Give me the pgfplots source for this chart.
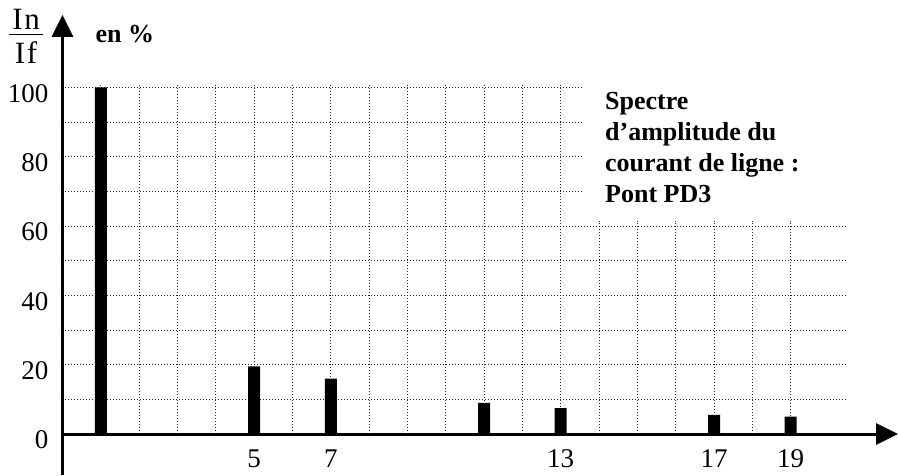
\documentclass[border=0pt]{standalone}
\usepackage{fontspec}
\setmainfont{Liberation Serif}
\usepackage{pgfplots}
\pgfplotsset{compat=1.18}
\usetikzlibrary{arrows.meta}
\tikzset{gridline/.style={densely dotted, black!85, line width=0.5pt}}

\begin{document}
\begin{tikzpicture}
\begin{axis}[
    x=19.165pt, y=1.7335pt,
    xmin=0, xmax=21.8, ymin=-11.9, ymax=120.9,
    axis x line=middle, axis y line=middle,
    axis line style={line width=1.5pt, -{Triangle[length=11pt,width=10.5pt]}},
    xtick={5,7,13,17,19},
    ytick={0,20,40,60,80,100},
    major tick length=0pt,
    hide obscured x ticks=false, hide obscured y ticks=false,
    tick label style={font=\fontsize{13.5}{15}\selectfont},
    /pgf/number format/assume math mode=true,
    xticklabel style={yshift=-4.5pt},
    yticklabel style={xshift=-3.5pt, yshift=-3pt},
    clip=false,
]
% grille (pointillés)
\pgfplotsinvokeforeach{10,20,30,40,50,60}{
    \draw[gridline] (axis cs:0,#1) -- (axis cs:20.49,#1);
}
\pgfplotsinvokeforeach{70,80,90,100}{
    \draw[gridline] (axis cs:0,#1) -- (axis cs:13.58,#1);
}
\pgfplotsinvokeforeach{1,2,3,4,5,6,7,8,9,10,11,12,13}{
    \draw[gridline] (axis cs:#1,0) -- (axis cs:#1,101);
}
\pgfplotsinvokeforeach{14,15,16,17,18,19}{
    \draw[gridline] (axis cs:#1,0) -- (axis cs:#1,61.5);
}

% harmoniques
\addplot[ybar, bar width=6pt, fill=black, draw=none] coordinates {
    (1,100) (5,19.5) (7,16) (11,9) (13,7.5) (17,5.5) (19,5)
};

% In / If
\node[font=\fontsize{15.5}{17}\selectfont, inner sep=0, anchor=base]
    at (axis cs:-0.95,116.6) {I\kern0.8pt n};
\draw[line width=0.8pt] (axis cs:-1.40,115.3) -- (axis cs:-0.51,115.3);
\node[font=\fontsize{15.5}{17}\selectfont, inner sep=0, anchor=base]
    at (axis cs:-0.95,107.0) {I\kern0.8pt f};
\node[font=\bfseries\fontsize{13}{15}\selectfont] at (axis cs:1.63,115.3) {en \%};
\node[anchor=north west, inner sep=0, align=left,
      font=\bfseries\fontsize{13}{15.5}\selectfont] at (axis cs:14.15,98.6)
    {Spectre\\d’amplitude du\\courant de ligne :\\Pont PD3};

\coordinate (bbl) at (axis cs:-1.63,-11.83);
\coordinate (bur) at (axis cs:21.8,125.2);
\end{axis}
\pgfresetboundingbox
\path[use as bounding box] (bbl) rectangle (bur);
\end{tikzpicture}
\end{document}
